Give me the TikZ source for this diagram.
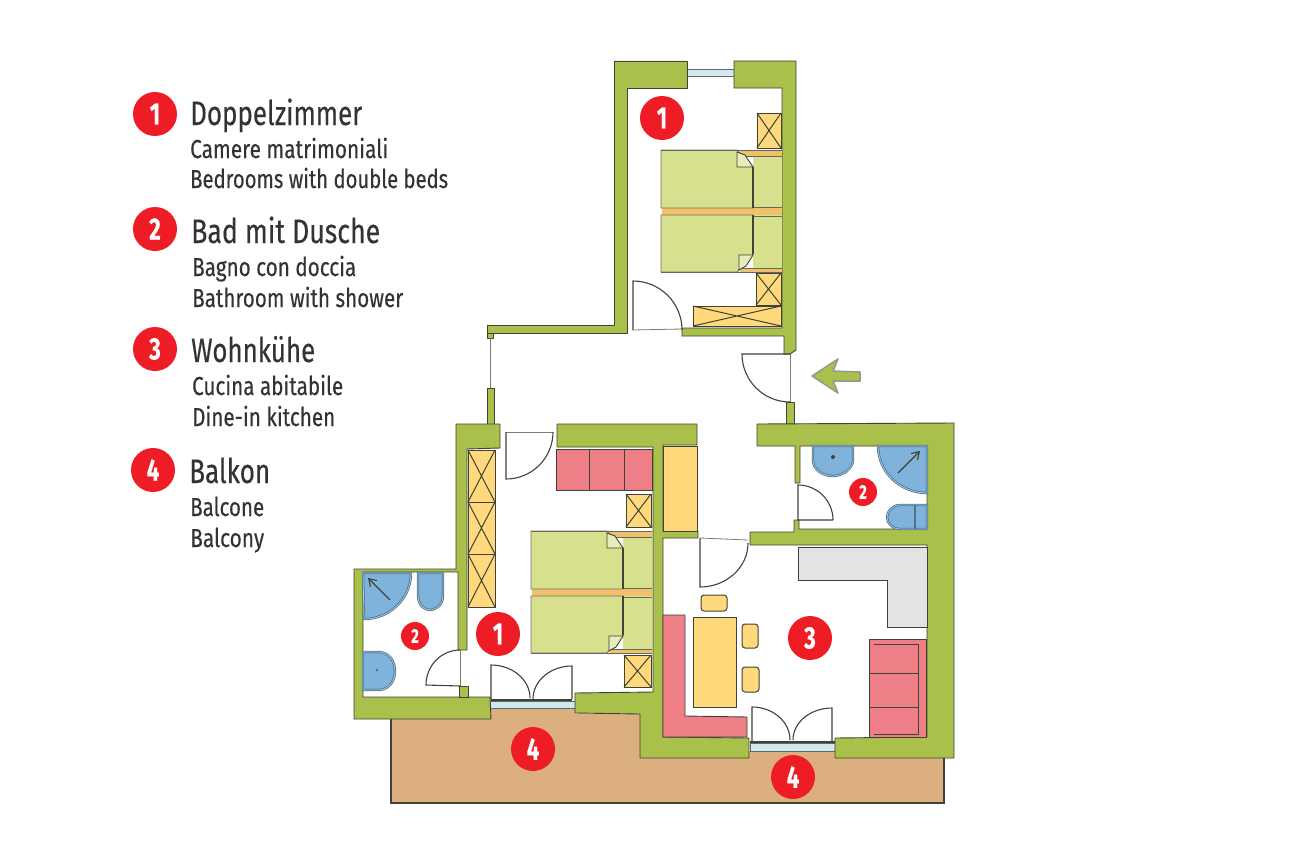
\documentclass[tikz,border=0pt]{standalone}
\usepackage{fontspec}
\usepackage{graphicx}
\usetikzlibrary{arrows.meta}
\setmainfont{Fira Sans}[FakeBold=0.35]
\definecolor{wallc}{HTML}{A9C04A}
\definecolor{linec}{HTML}{3F4238}
\definecolor{yelc}{HTML}{FFD97C}
\definecolor{pinkc}{HTML}{EE7F86}
\definecolor{bluec}{HTML}{80B3DC}
\definecolor{blueln}{HTML}{4F7288}
\definecolor{greyc}{HTML}{E3E3E3}
\definecolor{balc}{HTML}{DCB07E}
\definecolor{bedc}{HTML}{D7E08D}
\definecolor{stripc}{HTML}{EFC26A}
\definecolor{redc}{HTML}{EE1C25}
\definecolor{glassc}{HTML}{CFE8F2}
\definecolor{textc}{HTML}{333333}
\tikzset{
  wallp/.style={fill=wallc,draw=linec,line width=.9pt,line join=round},
  furn/.style={fill=yelc,draw=linec,line width=1pt},
  sofa/.style={fill=pinkc,draw=linec,line width=.9pt},
  topcloth/.style={fill=bedc,draw=linec!75,line width=.9pt},
  strip/.style={fill=stripc,draw=none},
  san/.style={fill=bluec,draw=blueln,line width=.8pt,double=bluec!70!white,double distance=.8pt},
  thinl/.style={draw=linec!70,line width=.8pt},
  doorarc/.style={draw=linec,line width=1.1pt},
  glass/.style={fill=glassc,draw=linec!80,line width=.9pt},
  badge/.style={circle,fill=redc,text=white,inner sep=0pt,minimum size=44pt,font=\fontsize{31}{31}\bfseries\selectfont},
  smallbadge/.style={circle,fill=redc,text=white,inner sep=0pt,minimum size=28pt,font=\fontsize{20}{20}\bfseries\selectfont},
}
\newsavebox{\labbox}
\newcommand{\lab}[6]{%
  \node[anchor=base west,inner sep=0pt,text=textc] (#1) at (#2,#3) {%
    \fontsize{#5}{#5}\selectfont
    \sbox{\labbox}{#6}%
    \pgfmathsetmacro{\labratio}{#4/\the\wd\labbox}%
    \scalebox{\labratio}[1]{\usebox{\labbox}}};%
}
\newcommand{\num}[1]{\scalebox{.72}[1]{#1}}
\newcommand{\xbox}[4]{%
  \draw[furn] (#1,#2) rectangle (#3,#4);
  \draw[draw=linec,line width=1pt] (#1,#2) -- (#3,#4) (#1,#4) -- (#3,#2);
}
\newcommand{\dbed}{%
  \draw[topcloth,draw=none] (753,155) rectangle (782,209);
  \draw[topcloth,draw=none] (753,215) rectangle (782,269);
  \draw[strip] (740,151) rectangle (782,156);
  \draw[strip] (662,208) rectangle (782,215);
  \draw[strip] (740,268) rectangle (782,272);
  \draw[linec!80,line width=.8pt] (740,156) -- (782,156) (753,207) -- (782,207) (753,216) -- (782,216) (740,268) -- (782,268);
  \draw[topcloth] (661,150) -- (737,150) -- (753,167) -- (753,208) -- (661,208) -- cycle;
  \draw[topcloth] (661,215) -- (753,215) -- (753,254) -- (737,272) -- (661,272) -- cycle;
  \draw[linec,line width=1.1pt] (753,167) -- (753,208) (753,215) -- (753,254);
  \draw[fill=bedc!60!white,draw=linec,line width=.9pt] (737,152) -- (737,167) -- (753,167) -- (745,155) -- cycle;
  \draw[fill=bedc!60!white,draw=linec,line width=.9pt] (739,270) -- (739,255) -- (753,255) -- (746,266) -- cycle;
  \draw[linec!80,line width=.9pt] (661,150) -- (782,150) (661,272) -- (782,272);
}
\begin{document}
\begin{tikzpicture}[x=1pt,y=-1pt]
\useasboundingbox (0,0) rectangle (1300,867);
% balcony
\path[fill=balc] (391,719) -- (491,719) -- (491,708) -- (575,708) -- (575,714) -- (640,714) -- (640,758) -- (749,758) -- (749,751) -- (835,751) -- (835,758) -- (944,758) -- (944,803) -- (391,803) -- cycle;
\draw[linec,line width=1.4pt] (391,719) -- (391,803) -- (944,803) -- (944,758);
% windows
\draw[glass] (687,69) rectangle (734,76);
\draw[glass] (490,701) rectangle (575,708);
\draw[glass] (750,743) rectangle (835,751);
% walls
\draw[wallp] (614,61) -- (687,61) -- (687,88) -- (627,88) -- (627,333) -- (487,333) -- (487,325) -- (614,325) -- cycle;
\draw[wallp] (734,61) -- (796,61) -- (796,350) -- (790,354) -- (784,354) -- (784,336) -- (682,336) -- (682,328) -- (782,328) -- (782,88) -- (734,88) -- cycle;
\draw[wallp] (487,333) rectangle (493,338);
\draw[wallp] (487,388) rectangle (494,424);
\draw[wallp] (786,402) -- (794,402) -- (794,424) -- (786,424) -- cycle;
\draw[wallp] (757,424) -- (954,423) -- (954,758) -- (835,758) -- (835,738) -- (927,737) -- (927,545) -- (750,545) -- (750,532) -- (794,532) -- (794,520) -- (799,520) -- (799,529) -- (927,529) -- (927,446) -- (800,446) -- (800,483) -- (795,483) -- (795,446) -- (757,446) -- cycle;
\draw[wallp] (456,424) -- (500,424) -- (500,448) -- (467,449) -- (467,650) -- (458,650) -- (458,572) -- (363,572) -- (363,697) -- (490,697) -- (491,719) -- (354,719) -- (354,569) -- (456,569) -- cycle;
\draw[wallp] (459,686) rectangle (468,697);
\draw[wallp] (557,424) -- (697,424) -- (697,445) -- (663,445) -- (663,531) -- (698,531) -- (698,538) -- (663,538) -- (663,737) -- (749,738) -- (749,758) -- (640,758) -- (640,714) -- (575,713) -- (575,693) -- (653,692) -- (653,447) -- (557,447) -- cycle;
% top bedroom
\xbox{757}{113}{781}{148}
\dbed
\xbox{756}{273}{781}{305}
\xbox{693}{306}{781}{326}
\draw[thinl] (633,330) -- (682,329);
\draw[doorarc] (633,330) -- (633,281) arc[start angle=90,end angle=0,radius=49pt];
% entrance
\draw[thinl] (790,354) -- (790,402) (490,338) -- (490,388);
\draw[doorarc] (790,354) -- (742,354) arc[start angle=180,end angle=270,radius=48pt];
% arrow
\draw[fill=wallc,draw=linec!55,line width=1.5pt,line join=round] (812,376) -- (838,359) -- (833,371) -- (860,372) -- (860,381) -- (833,381) -- (838,393) -- cycle;
% lower bedroom
\xbox{468}{450}{495}{502}
\xbox{468}{502}{495}{554}
\xbox{468}{554}{495}{607}
\draw[thinl] (506,432) -- (553,432);
\draw[doorarc] (506,432) -- (506,479) arc[start angle=270,end angle=360,radius=47pt];
\draw[sofa] (556,449) rectangle (652,490);
\draw[linec,line width=1pt] (589,449) -- (589,490) (624,449) -- (624,490);
\xbox{626}{494}{651}{527}
\begin{scope}[shift={(-130,381)}]
\dbed
\end{scope}
\xbox{624}{655}{651}{687}
\draw[doorarc] (491,699) -- (491,665) arc[start angle=90,end angle=0,x radius=39pt,y radius=33pt];
\draw[doorarc] (572,699) -- (572,666) arc[start angle=90,end angle=180,x radius=39pt,y radius=33pt];
\draw[linec,line width=1.2pt] (491,700) -- (572,700);
% left bathroom
\draw[san] (363,573) -- (411,573) arc[start angle=0,end angle=-90,x radius=47pt,y radius=46pt] -- cycle;
\draw[draw=linec,line width=1.1pt,-{Straight Barb[length=7pt,width=9pt]}] (390,600) -- (368,578);
\draw[san] (418,573) -- (443,573) -- (443,595) .. controls (443,606) and (435,610) .. (430,610) .. controls (425,610) and (418,606) .. (418,595) -- cycle;
\draw[san] (363,652) -- (378,652) .. controls (390,652) and (395,662) .. (395,671) .. controls (395,680) and (390,690) .. (378,690) -- (363,690) -- cycle;
\fill[blueln] (377,670) circle (1.5pt);
\draw[thinl] (460,650) -- (460,686);
\draw[doorarc] (460,686) -- (426,685) arc[start angle=180,end angle=90,x radius=34pt,y radius=35pt];
% right bathroom
\draw[san] (813,446) -- (853,446) -- (853,462) .. controls (850,472) and (840,476) .. (833,476) .. controls (825,476) and (815,472) .. (813,462) -- cycle;
\fill[linec] (833,457) circle (2pt);
\draw[san] (878,446) -- (927,446) -- (927,493) arc[start angle=270,end angle=180,x radius=49pt,y radius=47pt] -- cycle;
\draw[draw=linec,line width=1.1pt,-{Straight Barb[length=7pt,width=9pt]}] (898,473) -- (920,451);
\draw[san] (927,505) -- (900,505) .. controls (892,505) and (887,512) .. (887,517) .. controls (887,523) and (892,529) .. (900,529) -- (927,529) -- cycle;
\draw[blueln,line width=1.1pt] (915,505) -- (915,529);
\draw[doorarc] (833,520) -- (798,520) -- (798,485) arc[start angle=90,end angle=0,radius=35pt];
% living room
\draw[furn] (663,446) rectangle (697,531);
\draw[thinl] (700,538) -- (748,540);
\draw[doorarc] (700,538) -- (700,587) arc[start angle=270,end angle=360,x radius=48pt,y radius=44pt];
\draw[furn,rounded corners=3pt] (701,595) rectangle (727,611);
\draw[furn] (693,617) rectangle (736,707);
\draw[furn,rounded corners=3pt] (742,624) rectangle (758,648);
\draw[furn,rounded corners=3pt] (742,667) rectangle (759,692);
\draw[sofa] (663,615) -- (685,615) -- (685,716) -- (747,717) -- (747,737) -- (663,737) -- cycle;
\draw[fill=greyc,draw=linec,line width=1pt] (798,547) -- (927,547) -- (927,627) -- (887,627) -- (887,580) -- (798,580) -- cycle;
\draw[sofa] (869,639) rectangle (926,737);
\draw[linec,line width=1pt] (874,644) -- (918,644) -- (918,734) -- (874,734) (869,673) -- (918,673) (869,707) -- (918,707);
\draw[doorarc] (752,741) -- (752,707) arc[start angle=90,end angle=0,x radius=38pt,y radius=33pt];
\draw[doorarc] (832,741) -- (832,708) arc[start angle=90,end angle=180,x radius=39pt,y radius=32pt];
\draw[linec,line width=1.2pt] (750,742) -- (835,742);
% plan badges
\node[badge] (p1a) at (662,118) {\num{1}};
\node[badge] (p1b) at (498,634) {\num{1}};
\node[smallbadge] (p2a) at (415,636) {\num{2}};
\node[smallbadge] (p2b) at (863,492) {\num{2}};
\node[badge] (p3) at (810,638) {\num{3}};
\node[badge] (p4a) at (533,749) {\num{4}};
\node[badge] (p4b) at (793,777) {\num{4}};
% legend
\node[badge] (l1) at (155,114) {\num{1}};
\node[badge] (l2) at (155,229) {\num{2}};
\node[badge] (l3) at (155,349) {\num{3}};
\node[badge] (l4) at (153,470) {\num{4}};
\lab{t1a}{190}{125}{172}{34}{Doppelzimmer}
\lab{t1b}{190}{158}{198}{26}{Camere matrimoniali}
\lab{t1c}{190}{188}{258}{26}{Bedrooms with double beds}
\lab{t2a}{191}{243}{189}{34}{Bad mit Dusche}
\lab{t2b}{192}{276}{164}{26}{Bagno con doccia}
\lab{t2c}{192}{307}{211}{26}{Bathroom with shower}
\lab{t3a}{191}{362}{124}{34}{Wohnkühe}
\lab{t3b}{192}{395}{151}{26}{Cucina abitabile}
\lab{t3c}{192}{426}{143}{26}{Dine-in kitchen}
\lab{t4a}{189}{483}{81}{34}{Balkon}
\lab{t4b}{190}{516}{74}{26}{Balcone}
\lab{t4c}{190}{547}{74}{26}{Balcony}
\end{tikzpicture}
\end{document}
